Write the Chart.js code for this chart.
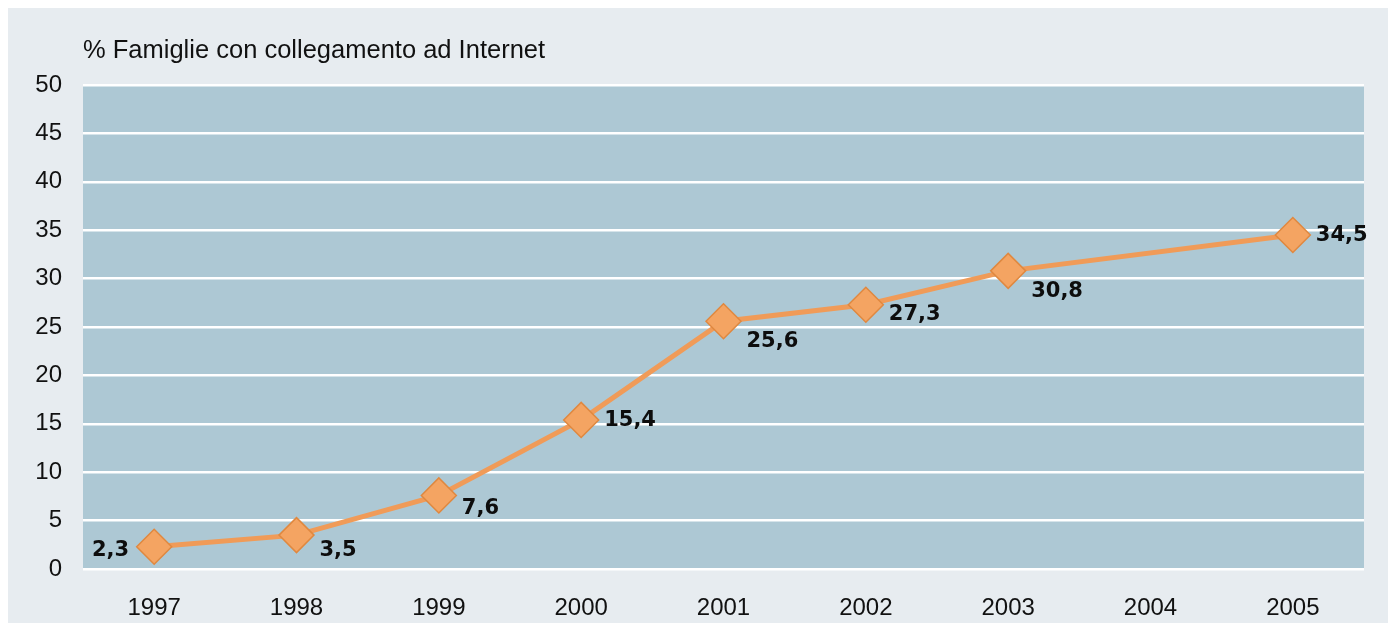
<!DOCTYPE html>
<html>
<head>
<meta charset="utf-8">
<script src="https://cdn.jsdelivr.net/npm/chart.js@4/dist/chart.umd.min.js"></script>
<style>
  html, body { margin: 0; padding: 0; background: #ffffff; }
  #wrap { width: 1396px; height: 623px; position: relative; }
</style>
</head>
<body>
<div id="wrap"><canvas id="netChart" width="1396" height="623"></canvas></div>
<script>
// households with internet access, % per year (2004 not surveyed)
const years = ['1997', '1998', '1999', '2000', '2001', '2002', '2003', '2004', '2005'];
const share = [2.3, 3.5, 7.6, 15.4, 25.6, 27.3, 30.8, null, 34.5];
const yTicks = [0, 5, 10, 15, 20, 25, 30, 35, 40, 45, 50];

const chartTitle = '% Famiglie con collegamento ad Internet';

// where each value label sits relative to its marker: [dx, dy, align]
const labelPlacement = [
  [-25, 4, 'right'],
  [23, 15, 'left'],
  [23, 13, 'left'],
  [23, 1, 'left'],
  [23, 20, 'left'],
  [23, 10, 'left'],
  [23, 21, 'left'],
  [0, 0, 'left'],
  [23, 1, 'left']
];

const tickFont = { family: '"Liberation Sans", Arial, sans-serif', size: 24 };

// light panel behind everything + blue plot area
const backdrop = {
  id: 'backdrop',
  beforeDraw(chart) {
    const { ctx, chartArea } = chart;
    ctx.save();
    ctx.fillStyle = '#e7ecf0';
    ctx.fillRect(8, 8, 1380, 615);
    ctx.fillStyle = '#adc8d4';
    ctx.fillRect(chartArea.left, chartArea.top, chartArea.right - chartArea.left, chartArea.bottom - chartArea.top);
    ctx.font = '25.5px "Liberation Sans", Arial, sans-serif';
    ctx.fillStyle = '#111111';
    ctx.textBaseline = 'middle';
    ctx.textAlign = 'left';
    ctx.fillText(chartTitle, chartArea.left, 51);
    ctx.restore();
  }
};

const valueLabels = {
  id: 'valueLabels',
  afterDatasetsDraw(chart) {
    const { ctx } = chart;
    const meta = chart.getDatasetMeta(0);
    ctx.save();
    ctx.font = 'bold 21px "DejaVu Sans", Verdana, sans-serif';
    ctx.fillStyle = '#0d0d0d';
    ctx.textBaseline = 'middle';
    meta.data.forEach((pt, i) => {
      const v = share[i];
      if (v === null) return;
      const [dx, dy, align] = labelPlacement[i];
      ctx.textAlign = align;
      ctx.fillText(v.toFixed(1).replace('.', ','), pt.x + dx, pt.y + dy);
    });
    ctx.restore();
  }
};

new Chart(document.getElementById('netChart'), {
  type: 'line',
  data: {
    labels: years,
    datasets: [{
      data: share,
      spanGaps: true,
      borderColor: '#f09b58',
      borderWidth: 5,
      tension: 0,
      pointStyle: 'rectRot',
      pointRadius: 17.5,
      pointBackgroundColor: '#f4a462',
      pointBorderColor: '#e0883f',
      pointBorderWidth: 1.5
    }]
  },
  options: {
    responsive: false,
    animation: false,
    devicePixelRatio: 1,
    layout: { padding: { left: 8, right: 32, top: 85, bottom: 0 } },
    plugins: {
      legend: { display: false },
      tooltip: { enabled: false }
    },
    scales: {
      x: {
        offset: true,
        grid: { display: false },
        border: { display: false },
        ticks: { font: tickFont, color: '#111111', padding: 17 },
        afterFit(scale) { scale.height = 54; }
      },
      y: {
        min: 0,
        max: 50,
        afterBuildTicks(scale) { scale.ticks = yTicks.map(v => ({ value: v })); },
        grid: { color: '#ffffff', lineWidth: 2.5, drawTicks: false },
        border: { display: false },
        ticks: { font: tickFont, color: '#111111', padding: 21 },
        afterFit(scale) { scale.width = 75; }
      }
    }
  },
  plugins: [backdrop, valueLabels]
});
</script>
</body>
</html>
